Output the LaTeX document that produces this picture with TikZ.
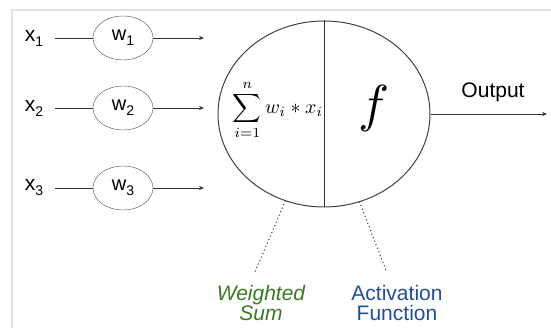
\documentclass[tikz,border=0pt]{standalone}
\usepackage[no-math]{fontspec}
\usepackage{graphicx}
\setmainfont{Liberation Sans}
\usetikzlibrary{shapes.geometric, arrows.meta, positioning}
\definecolor{sumgreen}{HTML}{3B7A22}
\definecolor{actblue}{HTML}{1F4F9C}
\definecolor{framegray}{HTML}{E2E2E2}
\newcommand{\lowidx}[1]{\raisebox{-0.45ex}{\fontsize{14}{14}\selectfont #1}}

\begin{document}
\begin{tikzpicture}[
  x=1pt, y=-1pt,
  input/.style={font=\fontsize{21}{21}\selectfont, inner sep=1pt},
  weight/.style={draw=black!70, ellipse, minimum width=60pt, minimum height=44pt, inner sep=0pt, font=\fontsize{20}{20}\selectfont},
  link/.style={draw=black!80, line width=0.7pt},
  lead/.style={link, shorten <=11pt},
  feed/.style={link, -{Stealth[length=5pt, width=4pt]}},
  pointer/.style={draw=black!75, line width=1.5pt, line cap=round, dash pattern=on 0pt off 3.8pt},
  caption/.style={align=center, font=\fontsize{21}{20}\selectfont},
]
  \useasboundingbox (0,0) rectangle (551,328);

  % Frame
  \draw[framegray, line width=2pt] (12,328) -- (12,10) -- (551,10);

  % Inputs and weights
  \node[input] (x1) at (34,38) {x\lowidx{1}};
  \node[input] (x2) at (34,108) {x\lowidx{2}};
  \node[input] (x3) at (34,188) {x\lowidx{3}};
  \node[weight] (w1) at (123,38) {w\lowidx{1}};
  \node[weight] (w2) at (123,108) {w\lowidx{2}};
  \node[weight] (w3) at (123,188) {w\lowidx{3}};
  \coordinate (in1) at (204,38);
  \coordinate (in2) at (204,108);
  \coordinate (in3) at (204,188);
  \draw[lead] (x1) -- (w1);
  \draw[lead] (x2) -- (w2);
  \draw[lead] (x3) -- (w3);
  \draw[feed] (w1) -- (in1);
  \draw[feed] (w2) -- (in2);
  \draw[feed] (w3) -- (in3);

  % Neuron
  \node[draw=black!75, line width=1pt, ellipse, minimum width=212pt, minimum height=186pt, inner sep=0pt] (neuron) at (324,114) {};
  \draw[link] (neuron.north) -- (neuron.south);
  \node (sum) at (278,110) {\scalebox{2}{$\displaystyle\sum_{i=1}^{n} w_i * x_i$}};
  \node (act) at (374,109) {\scalebox{5.2}{$f$}};

  % Output
  \coordinate (out) at (547,114);
  \draw[feed] (neuron.east) -- (out);
  \node[font=\fontsize{21}{21}\selectfont] (outlabel) at (493,92) {Output};

  % Captions
  \node[caption, text=sumgreen, font=\fontsize{21}{20}\selectfont\itshape] (wsum) at (261,303) {Weighted\\Sum};
  \node[caption, text=actblue] (afunc) at (397,303) {Activation\\Function};
  \coordinate (ws-tip) at (255,272);
  \coordinate (af-tip) at (387,273);
  \draw[pointer] (neuron.246) -- (ws-tip);
  \draw[pointer] (neuron.292) -- (af-tip);

\end{tikzpicture}
\end{document}
